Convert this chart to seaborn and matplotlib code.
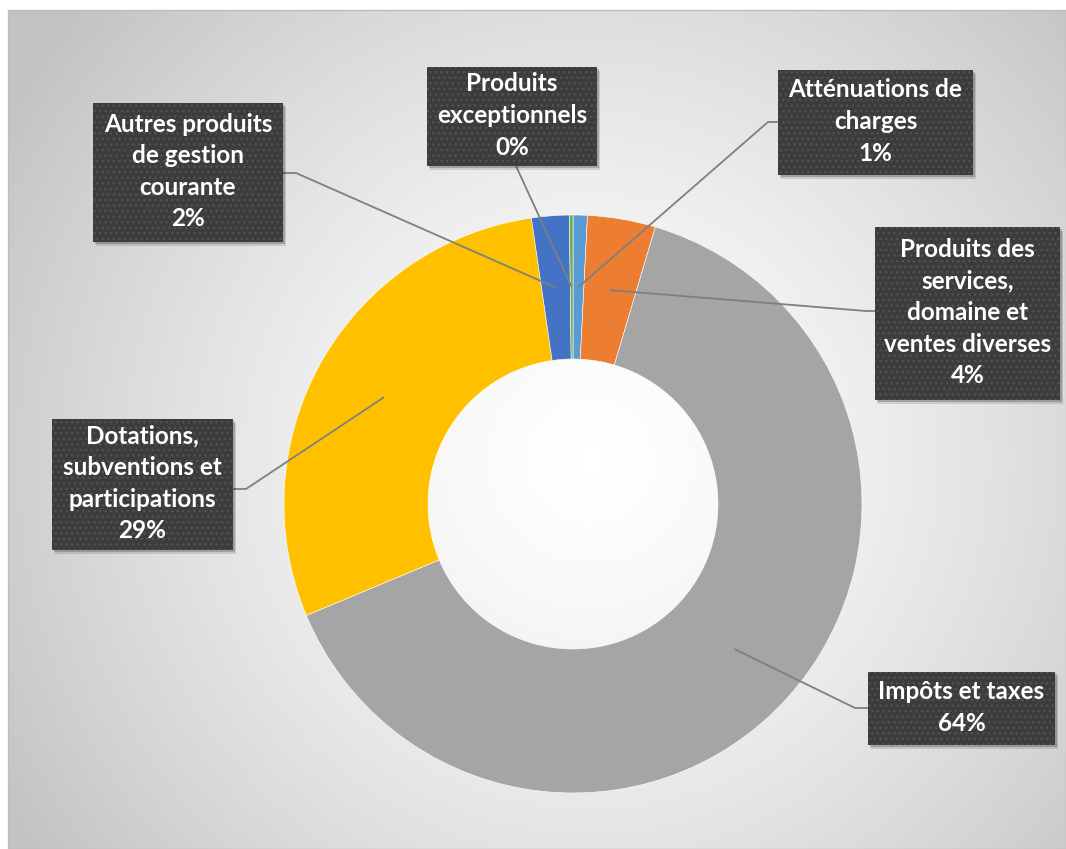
import numpy as np
import matplotlib
matplotlib.use("Agg")
import matplotlib.pyplot as plt
from matplotlib.colors import LinearSegmentedColormap
from matplotlib.patches import Rectangle
import seaborn as sns

# data, order = clockwise from the top
categories = [
    "Atténuations de\ncharges",
    "Produits des\nservices,\ndomaine et\nventes diverses",
    "Impôts et taxes",
    "Dotations,\nsubventions et\nparticipations",
    "Autres produits\nde gestion\ncourante",
    "Produits\nexceptionnels",
]
shares = [0.8, 3.8, 64.1, 29.0, 2.1, 0.2]
pct_labels = ["1%", "4%", "64%", "29%", "2%", "0%"]
palette = sns.color_palette(["#5B9BD5", "#ED7D31", "#A5A5A5", "#FFC000", "#4472C4", "#70AD47"])

# label boxes in image pixels (left, top, right, bottom), and leader stubs
W, H = 1066, 849
boxes = [(778, 70, 973, 175), (875, 227, 1060, 400), (868, 672, 1055, 745),
         (52, 419, 233, 550), (93, 103, 283, 242), (427, 67, 597, 166)]
stubs = [((778, 122), (768, 122)), ((875, 311), (866, 311)), ((868, 708), (855, 708)),
         ((233, 489), (246, 489)), ((283, 173), (296, 173)), ((516, 166), (516, 166))]

sns.set_theme(style="white")
plt.rcParams["font.family"] = ["Lato", "DejaVu Sans"]

fig = plt.figure(figsize=(W / 100, H / 100), dpi=100)
ax = fig.add_axes([0, 0, 1, 1])

# background radial gradient + border
xs = np.arange(8, W)
ys = np.arange(10, H)
xx, yy = np.meshgrid(xs, ys)
d = np.clip(np.hypot(xx - 590, yy - 460) / 690, 0, 1) ** 1.4
bg_cmap = LinearSegmentedColormap.from_list("bg", ["#ffffff", "#c2c2c2"])
ax.imshow(d, cmap=bg_cmap, vmin=0, vmax=1, extent=[8, W, 0, H - 10],
          origin="upper", zorder=0, aspect="auto")
ax.add_patch(Rectangle((8, 0), W - 8, H - 10, fill=False, edgecolor="#bdbdbd", lw=1, zorder=1))

# donut
cx, cy = 573, H - 504
R, ring = 289, 144
ax.pie(shares, colors=palette, radius=R, center=(cx, cy), startangle=90,
       counterclock=False, wedgeprops=dict(width=ring, edgecolor="white", linewidth=0.4))
for w in ax.patches[-len(shares):]:
    w.set_zorder(2)

# anchors on the middle of each ring segment
cum = np.cumsum(shares) - np.array(shares) / 2
ang = np.deg2rad(90 - 360 * cum / 100)
rm = R - ring / 2
anchors = [(cx + rm * np.cos(a), cy + rm * np.sin(a)) for a in ang]

for i, (cat, pct) in enumerate(zip(categories, pct_labels)):
    l, t, r, b = boxes[i]
    (ex, ey), (sx, sy) = stubs[i]
    axx, ayy = anchors[i]
    ax.plot([axx, sx, ex], [ayy, H - sy, H - ey], color="#7f7f7f", lw=1.3, zorder=3,
            solid_capstyle="butt")
    # shadow
    ax.add_patch(Rectangle((l + 3, H - b - 4), r - l, b - t, facecolor="#000000",
                           alpha=0.12, lw=0, zorder=4))
    ax.add_patch(Rectangle((l + 2, H - b - 2), r - l, b - t, facecolor="#000000",
                           alpha=0.2, lw=0, zorder=4))
    ax.add_patch(Rectangle((l, H - b), r - l, b - t, facecolor="#3c3c3c",
                           edgecolor="#525252", hatch="...", lw=0, zorder=5))
    ax.text((l + r) / 2, H - (t + b) / 2 + 1, f"{cat}\n{pct}", ha="center", va="center",
            multialignment="center", color="white", fontsize=17.5, fontweight="bold",
            linespacing=1.45, zorder=6)

ax.set_xlim(0, W)
ax.set_ylim(0, H)
ax.set_aspect("equal")
ax.axis("off")

fig.savefig("out.png", dpi=100)
